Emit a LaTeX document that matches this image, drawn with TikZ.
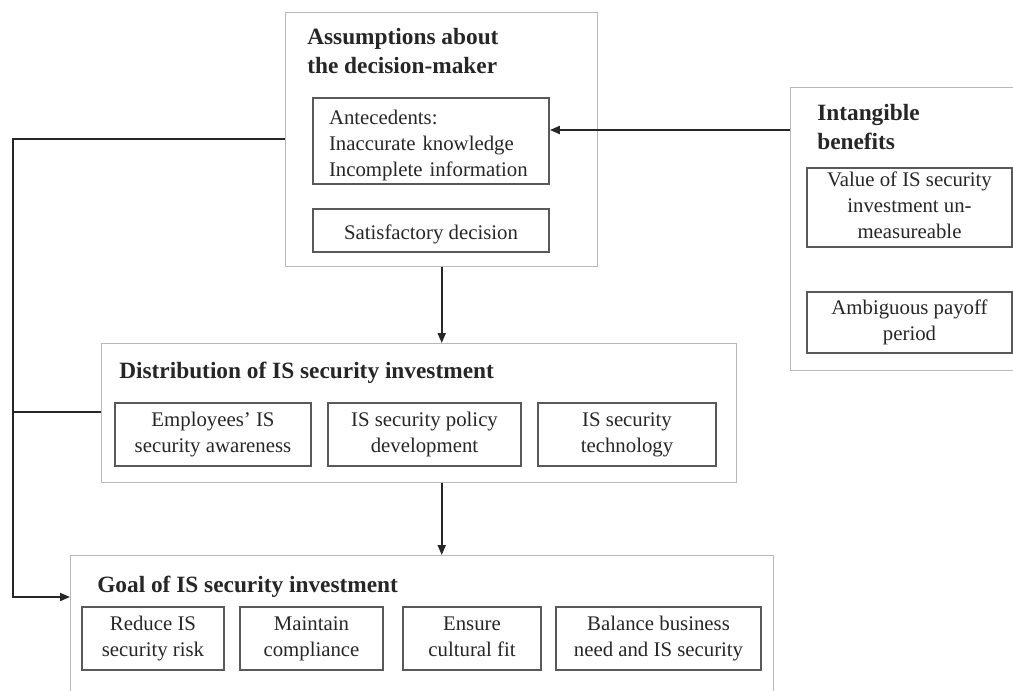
\documentclass[tikz,border=0pt]{standalone}
\usepackage{fontspec}
\setmainfont{Liberation Serif}
\usetikzlibrary{arrows.meta}
\newdimen\px \px=0.75pt
\definecolor{outergray}{gray}{0.72}
\definecolor{innergray}{gray}{0.35}
\definecolor{inkgray}{gray}{0.15}

\begin{document}
\begin{tikzpicture}[x=0.75pt, y=-0.75pt,
    outerbox/.style={draw=outergray, line width=1.1pt, anchor=north west, inner sep=0pt},
    innerbox/.style={draw=innergray, line width=1.3pt, text=inkgray, align=center, inner sep=0pt,
      minimum height=63\px, font=\fontsize{15.6}{19.5}\selectfont,
      execute at begin node=\rule{0pt}{17.5pt},
      execute at end node=\rule[-2.9pt]{0pt}{0pt}},
    boxtitle/.style={anchor=west, align=left, inner sep=0pt, text=inkgray,
      font=\fontsize{17.5}{21.5}\selectfont\bfseries},
    conn/.style={line width=1.4pt, draw=black!85},
    arr/.style={conn, -{Triangle[length=7.5pt,width=6pt]}}]
  \clip (0,0) rectangle (1013,690);

  \node[outerbox, minimum width=312\px, minimum height=254\px] (assume) at (285,12) {};
  \node[outerbox, minimum width=240\px, minimum height=283\px] (intang) at (790,87) {};
  \node[outerbox, minimum width=635\px, minimum height=139\px] (distr) at (101,343) {};
  \node[outerbox, minimum width=703\px, minimum height=150\px] (goal) at (70,555) {};

  \node[boxtitle] (assumetitle) at (307,51) {Assumptions about\\the decision-maker};
  \node[innerbox, align=left, text width=153pt, inner xsep=16\px, minimum height=86\px] (antec) at (431,141)
    {Antecedents:\\Inaccurate knowledge\\Incomplete information};
  \node[innerbox, minimum width=236\px, minimum height=43\px] (satisf) at (431,230.5) {Satisfactory decision};

  \node[boxtitle] (intangtitle) at (817,127) {Intangible\\benefits};
  \node[innerbox, minimum width=205\px, minimum height=79\px] (valuem) at (909.5,207.5)
    {Value of IS security\\investment un-\\measureable};
  \node[innerbox, minimum width=205\px, minimum height=61\px] (payoff) at (909.5,322.5) {Ambiguous payoff\\period};

  \node[boxtitle] (distrtitle) at (119,373) {Distribution of IS security investment};
  \node[innerbox, minimum width=196\px] (aware) at (213,434.5) {Employees' IS\\security awareness};
  \node[innerbox, minimum width=193\px] (policy) at (424.5,434.5) {IS security policy\\development};
  \node[innerbox, minimum width=178\px] (techno) at (627,434.5) {IS security\\technology};

  \node[boxtitle] (goaltitle) at (97,587) {Goal of IS security investment};
  \node[innerbox, minimum width=142\px] (risk) at (153,638.5) {Reduce IS\\security risk};
  \node[innerbox, minimum width=143\px] (comply) at (311.5,638.5) {Maintain\\compliance};
  \node[innerbox, minimum width=138\px] (culture) at (472,638.5) {Ensure\\cultural fit};
  \node[innerbox, minimum width=205\px] (balance) at (658.5,638.5) {Balance business\\need and IS security};

  \coordinate (looptop) at (13,139);
  \coordinate (loopbot) at (13,597);

  \draw[arr] (intang.west |- 0,130) -- (antec.east |- 0,130);
  \draw[arr] (assume.south) -- (assume.south |- distr.north);
  \draw[arr] (assume.south |- distr.south) -- (assume.south |- goal.north);
  \draw[arr] (assume.west |- looptop) -- (looptop) -- (loopbot) -- (goal.west |- loopbot);
  \draw[conn] (distr.west |- 0,412) -- (looptop |- 0,412);
\end{tikzpicture}
\end{document}
